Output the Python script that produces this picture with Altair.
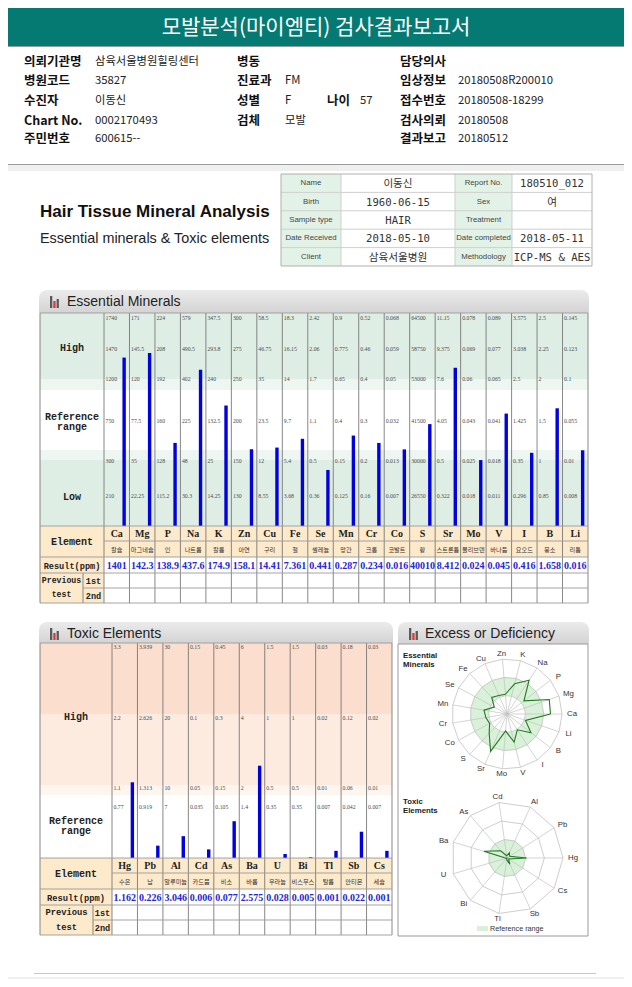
import altair as alt
import pandas as pd
import numpy as np

# ------------------------------------------------------------------ data
title_text = "모발분석(마이엠티) 검사결과보고서"

info_labels_1 = ["의뢰기관명", "병원코드", "수진자", "Chart No.", "주민번호"]
info_values_1 = ["삼육서울병원힐링센터", "35827", "이동신", "0002170493", "600615--"]
info_labels_2 = ["병동", "진료과", "성별", "검체"]
info_values_2 = ["", "FM", "F", "모발"]
age_label, age_value = "나이", "57"
info_labels_3 = ["담당의사", "임상정보", "접수번호", "검사의뢰", "결과보고"]
info_values_3 = ["", "20180508R200010", "20180508-18299", "20180508", "20180512"]

box_labels_1 = ["Name", "Birth", "Sample type", "Date Received", "Client"]
box_values_1 = ["이동신", "1960-06-15", "HAIR", "2018-05-10", "삼육서울병원"]
box_labels_2 = ["Report No.", "Sex", "Treatment", "Date completed", "Methodology"]
box_values_2 = ["180510_012", "여", "", "2018-05-11", "ICP-MS & AES"]

htma_title = "Hair Tissue Mineral Analysis"
htma_sub = "Essential minerals & Toxic elements"

ess_elements = ["Ca", "Mg", "P", "Na", "K", "Zn", "Cu", "Fe", "Se", "Mn",
                "Cr", "Co", "S", "Sr", "Mo", "V", "I", "B", "Li"]
ess_korean = ["칼슘", "마그네슘", "인", "나트륨", "칼륨", "아연", "구리", "철", "셀레늄", "망간",
              "크롬", "코발트", "황", "스트론튬", "몰리브덴", "바나듐", "요오드", "붕소", "리튬"]
ess_results = [1401, 142.3, 138.9, 437.6, 174.9, 158.1, 14.41, 7.361, 0.441, 0.287,
               0.234, 0.016, 40010, 8.412, 0.024, 0.045, 0.416, 1.658, 0.016]
# tick values per column, from the top row (level 6) down to level 1
ess_lvl6 = [1740, 171, 224, 579, 347.5, 300, 58.5, 18.3, 2.42, 0.9, 0.52, 0.068, 64500, 11.15, 0.078, 0.089, 3.575, 2.5, 0.145]
ess_lvl5 = [1470, 145.5, 208, 490.5, 293.8, 275, 46.75, 16.15, 2.06, 0.775, 0.46, 0.059, 58750, 9.375, 0.069, 0.077, 3.038, 2.25, 0.123]
ess_lvl4 = [1200, 120, 192, 402, 240, 250, 35, 14, 1.7, 0.65, 0.4, 0.05, 53000, 7.6, 0.06, 0.065, 2.5, 2, 0.1]
ess_lvl3 = [750, 77.5, 160, 225, 132.5, 200, 23.5, 9.7, 1.1, 0.4, 0.3, 0.032, 41500, 4.05, 0.043, 0.041, 1.425, 1.5, 0.055]
ess_lvl2 = [300, 35, 128, 48, 25, 150, 12, 5.4, 0.5, 0.15, 0.2, 0.013, 30000, 0.5, 0.025, 0.018, 0.35, 1, 0.01]
ess_lvl1 = [210, 22.25, 115.2, 30.3, 14.25, 130, 8.55, 3.68, 0.36, 0.125, 0.16, 0.007, 26550, 0.322, 0.018, 0.011, 0.296, 0.85, 0.008]

tox_elements = ["Hg", "Pb", "Al", "Cd", "As", "Ba", "U", "Bi", "Tl", "Sb", "Cs"]
tox_korean = ["수은", "납", "알루미늄", "카드뮴", "비소", "바륨", "우라늄", "비스무스", "탈륨", "안티몬", "세슘"]
tox_results = [1.162, 0.226, 3.046, 0.006, 0.077, 2.575, 0.028, 0.005, 0.001, 0.022, 0.001]
tox_t1 = [3.3, 3.939, 30, 0.15, 0.45, 6, 1.5, 1.5, 0.03, 0.18, 0.03]
tox_t2 = [2.2, 2.626, 20, 0.1, 0.3, 4, 1, 1, 0.02, 0.12, 0.02]
tox_t3 = [1.1, 1.313, 10, 0.05, 0.15, 2, 0.5, 0.5, 0.01, 0.06, 0.01]
tox_t4 = [0.77, 0.919, 7, 0.035, 0.105, 1.4, 0.35, 0.35, 0.007, 0.042, 0.007]

# ------------------------------------------------------------------ layout
W, H = 616, 971
SX = alt.Scale(domain=[8, 8 + W], range=[0, W], zero=False, nice=False)
SY = alt.Scale(domain=[8, 8 + H], range=[0, H], zero=False, nice=False)

F_KR = "Noto Sans CJK KR"
F_SANS = "Liberation Sans, Arial, sans-serif"
F_MONO = "Liberation Mono, Courier New, monospace"
F_SERIF = "Liberation Serif, Times New Roman, serif"

GREEN = "#dfeee5"
GREEN_L = "#eef6f1"
ORANGE = "#fdeacb"
PEACH1 = "#fbdecd"
PEACH2 = "#fdebe0"
PEACH3 = "#fef5ef"
GRID = "#6a6a6a"
TGRID = "#9a9a9a"
BLUE = "#0000e0"
RBLUE = "#2626d6"

layers = []


def px():
    return alt.X("x:Q", scale=SX, axis=None)


def py():
    return alt.Y("y:Q", scale=SY, axis=None)


def rects(rows, **kw):
    df = pd.DataFrame(rows, columns=["x", "x2", "y", "y2", "c"])
    return alt.Chart(df).mark_rect(**kw).encode(
        x=px(), x2="x2:Q", y=py(), y2="y2:Q", color=alt.Color("c:N", scale=None))


def segs(rows, color, width=1.0):
    df = pd.DataFrame(rows, columns=["x", "x2", "y", "y2"])
    return alt.Chart(df).mark_rule(color=color, strokeWidth=width).encode(
        x=px(), x2="x2:Q", y=py(), y2="y2:Q")


def texts(rows, **kw):
    df = pd.DataFrame(rows, columns=["x", "y", "t"])
    kw.setdefault("baseline", "middle")
    return alt.Chart(df).mark_text(**kw).encode(x=px(), y=py(), text="t:N")


def band_x(domain, x0, x1, pos):
    return alt.X("el:N", scale=alt.Scale(type="band", domain=domain, range=[x0 - 8, x1 - 8],
                                          paddingInner=0, paddingOuter=0),
                 bandPosition=pos, axis=None)


def col_texts(domain, x0, x1, pos, rows, **kw):
    df = pd.DataFrame(rows, columns=["el", "y", "t"])
    kw.setdefault("baseline", "middle")
    return alt.Chart(df).mark_text(**kw).encode(x=band_x(domain, x0, x1, pos), y=py(), text="t:N")


def fmt(v):
    return f"{v:g}"


# ------------------------------------------------------------------ page header
layers.append(rects([(8, 624, 7, 46, "#057a73"), (8, 624, 165, 171, "#efefef"),
                     (8, 624, 977, 979, "#efefef")]))
layers.append(segs([(8, 624, 46.5, 46.5), (8, 624, 164.5, 164.5)], "#9a9a9a"))
layers.append(segs([(34, 596, 973.5, 973.5)], "#c8c8c8"))
layers.append(texts([(316, 27.5, title_text)], font=F_KR, fontSize=21, color="white", align="center"))

row_y = [62, 81, 101, 121, 139]
layers.append(texts([(24, y, t) for y, t in zip(row_y, info_labels_1)]
                    + [(237, y, t) for y, t in zip(row_y, info_labels_2)]
                    + [(327, row_y[2], age_label)]
                    + [(400, y, t) for y, t in zip(row_y, info_labels_3)],
                    font=F_KR, fontSize=12.5, fontWeight="bold", color="#111", align="left"))
layers.append(texts([(95, y, t) for y, t in zip(row_y, info_values_1)]
                    + [(285, y, t) for y, t in zip(row_y, info_values_2)]
                    + [(360, row_y[2], age_value)]
                    + [(458, y, t) for y, t in zip(row_y, info_values_3)],
                    font=F_KR, fontSize=11.3, color="#222", align="left"))

# ------------------------------------------------------------------ HTMA title + info box
layers.append(texts([(40, 212, htma_title)], font=F_SANS, fontSize=17, fontWeight="bold",
                    color="#111", align="left"))
layers.append(texts([(40, 239, htma_sub)], font=F_SANS, fontSize=14.4, color="#222", align="left"))

bx = [281, 341, 455, 512, 592]
by = [174 + i * 18.4 for i in range(6)]
layers.append(rects([(bx[0], bx[1], by[0], by[5], "#e3f2e7"), (bx[2], bx[3], by[0], by[5], "#e3f2e7")]))
layers.append(segs([(bx[0], bx[4], y, y) for y in by[1:5]]
                   + [(x, x, by[0], by[5]) for x in bx[1:4]], "#cfcfcf"))
layers.append(rects([(bx[0], bx[4], by[0], by[5], "transparent")], stroke="#b0b0b0", strokeWidth=1))
mid = [(by[i] + by[i + 1]) / 2 for i in range(5)]
layers.append(texts([((bx[0] + bx[1]) / 2, y, t) for y, t in zip(mid, box_labels_1)]
                    + [((bx[2] + bx[3]) / 2, y, t) for y, t in zip(mid, box_labels_2)],
                    font=F_SANS, fontSize=7.8, color="#444", align="center"))
layers.append(texts([((bx[1] + bx[2]) / 2, y + 1, t) for y, t in zip(mid, box_values_1)]
                    + [((bx[3] + bx[4]) / 2, y + 1, t) for y, t in zip(mid, box_values_2)],
                    font="DejaVu Sans Mono, Noto Sans CJK KR, monospace", fontSize=10.6, color="#333",
                    align="center"))

# ------------------------------------------------------------------ section headers
hdr_grad = alt.Gradient(gradient="linear", x1=0, y1=0, x2=0, y2=1,
                        stops=[alt.GradientStop(offset=0, color="#ebebeb"),
                               alt.GradientStop(offset=1, color="#d3d3d3")])
for (x0, x1, y0, y1) in [(39, 589, 290, 313), (39, 393, 622, 643), (398, 589, 622, 644)]:
    df = pd.DataFrame([{"x": x0, "x2": x1, "y": y0, "y2": y1}])
    layers.append(alt.Chart(df).mark_rect(color=hdr_grad, cornerRadiusTopLeft=8, cornerRadiusTopRight=8)
                  .encode(x=px(), x2="x2:Q", y=py(), y2="y2:Q"))
icon_h = [12, 7, 9]
icon_c = ["#5a5a5a", "#e03535", "#5a5a5a"]
icon_rows = []
for (ix, base) in [(50, 308), (50, 640), (409, 640)]:
    for k in range(3):
        icon_rows.append((ix + k * 3.3, ix + k * 3.3 + 2.3, base - icon_h[k], base, icon_c[k]))
layers.append(rects(icon_rows))
layers.append(texts([(67, 302, "Essential Minerals"), (67, 634, "Toxic Elements"),
                     (425, 634, "Excess or Deficiency")],
                    font=F_SANS, fontSize=14, color="#222", align="left"))

# ------------------------------------------------------------------ essential minerals chart
EL, ELAB, ER = 40, 104, 588
ETOP, EBASE = 313, 526
erows = [526, 541, 557, 573, 588, 603]
esplit = 83
ecw = (ER - ELAB) / len(ess_elements)

layers.append(rects([(EL, ER, ETOP, 379, GREEN), (EL, ER, 379, 390, GREEN_L),
                     (EL, ER, 450, 460, GREEN_L), (EL, ER, 460, EBASE, GREEN),
                     (EL, ELAB, erows[0], erows[5], ORANGE), (ELAB, ER, erows[0], erows[2], ORANGE)]))

ess_level = []
for i, v in enumerate(ess_results):
    xs = [0, ess_lvl1[i], ess_lvl2[i], ess_lvl3[i], ess_lvl4[i], ess_lvl5[i], ess_lvl6[i]]
    ess_level.append(float(np.interp(v, xs, list(range(7)))))
ess_df = pd.DataFrame({"el": ess_elements, "level": ess_level})
layers.append(alt.Chart(ess_df).mark_rule(color=BLUE, strokeWidth=3.4).encode(
    x=band_x(ess_elements, ELAB, ER, 0.79),
    y=alt.Y("level:Q", scale=alt.Scale(domain=[0, 6], range=[EBASE - 8, ETOP - 8], zero=False, nice=False),
            axis=None),
    y2=alt.datum(0)))

# grid
ev = [EL, ELAB] + [ELAB + i * ecw for i in range(1, len(ess_elements))] + [ER]
layers.append(segs([(x, x, ETOP, erows[5]) for x in ev] + [(esplit, esplit, erows[3], erows[5])], GRID, 0.8))
layers.append(segs([(EL, ER, ETOP, ETOP), (EL, ER, erows[0], erows[0]), (ELAB, ER, erows[1], erows[1]),
                    (EL, ER, erows[2], erows[2]), (EL, ER, erows[3], erows[3]),
                    (esplit, ER, erows[4], erows[4]), (EL, ER, erows[5], erows[5])], TGRID, 0.9))

# tick labels
ess_tick_y = [318, 349, 379, 421, 461, 496]
tick_rows = []
for i, el in enumerate(ess_elements):
    for y, lst in zip(ess_tick_y, [ess_lvl6, ess_lvl5, ess_lvl4, ess_lvl3, ess_lvl2, ess_lvl1]):
        tick_rows.append((el, y, fmt(lst[i])))
layers.append(col_texts(ess_elements, ELAB, ER, 0.06, tick_rows, font=F_SERIF, fontSize=5.8,
                        color="#4a4a4a", align="left"))
layers.append(col_texts(ess_elements, ELAB, ER, 0.5, [(e, 534, e) for e in ess_elements],
                        font=F_SERIF, fontSize=10, fontWeight="bold", color="#222", align="center"))
layers.append(col_texts(ess_elements, ELAB, ER, 0.5, [(e, 549.5, k) for e, k in zip(ess_elements, ess_korean)],
                        font=F_KR, fontSize=6.2, color="#333", align="center"))
layers.append(col_texts(ess_elements, ELAB, ER, 0.5, [(e, 565.5, fmt(v)) for e, v in zip(ess_elements, ess_results)],
                        font=F_SERIF, fontSize=10, fontWeight="bold", color=RBLUE, align="center"))

lab_c = (EL + ELAB) / 2
layers.append(texts([(lab_c, 348, "High"), (lab_c, 417, "Reference"), (lab_c, 426.5, "range"),
                     (lab_c, 497, "Low"), (lab_c, 541.5, "Element")],
                    font=F_MONO, fontSize=10, fontWeight="bold", color="#222", align="center"))
layers.append(texts([(lab_c, 565.5, "Result(ppm)")], font=F_MONO, fontSize=8.6, fontWeight="bold",
                    color="#222", align="center"))
layers.append(texts([((EL + esplit) / 2, 580.5, "Previous"), ((EL + esplit) / 2, 594.5, "test")],
                    font=F_MONO, fontSize=8.2, fontWeight="bold", color="#222", align="center"))
layers.append(texts([((esplit + ELAB) / 2, 580.5, "1st"), ((esplit + ELAB) / 2, 595.5, "2nd")],
                    font=F_MONO, fontSize=8.6, fontWeight="bold", color="#222", align="center"))

# ------------------------------------------------------------------ toxic elements chart
TL, TLAB, TR = 40, 112, 392
TTOP, TBASE = 643, 858
trows = [858, 873, 889, 905, 920, 935]
tsplit = 93
tcw = (TR - TLAB) / len(tox_elements)

layers.append(rects([(TL, TR, TTOP, 714, PEACH1), (TL, TR, 714, 785, PEACH2), (TL, TR, 785, 795, PEACH3),
                     (TL, TLAB, trows[0], trows[5], ORANGE), (TLAB, TR, trows[0], trows[2], ORANGE)]))

tox_frac = [r / m for r, m in zip(tox_results, tox_t1)]
tox_df = pd.DataFrame({"el": tox_elements, "frac": tox_frac})
layers.append(alt.Chart(tox_df).mark_rule(color=BLUE, strokeWidth=3.4).encode(
    x=band_x(tox_elements, TLAB, TR, 0.8),
    y=alt.Y("frac:Q", scale=alt.Scale(domain=[0, 1], range=[TBASE - 8, TTOP - 8], zero=False, nice=False),
            axis=None),
    y2=alt.datum(0)))

tv = [TL, TLAB] + [TLAB + i * tcw for i in range(1, len(tox_elements))] + [TR]
layers.append(segs([(x, x, TTOP, trows[5]) for x in tv] + [(tsplit, tsplit, trows[3], trows[5])], GRID, 0.8))
layers.append(segs([(TL, TR, TTOP, TTOP), (TL, TR, trows[0], trows[0]), (TLAB, TR, trows[1], trows[1]),
                    (TL, TR, trows[2], trows[2]), (TL, TR, trows[3], trows[3]),
                    (tsplit, TR, trows[4], trows[4]), (TL, TR, trows[5], trows[5])], TGRID, 0.9))

tox_tick_y = [647, 718, 788, 807]
ttick_rows = []
for i, el in enumerate(tox_elements):
    for y, lst in zip(tox_tick_y, [tox_t1, tox_t2, tox_t3, tox_t4]):
        ttick_rows.append((el, y, fmt(lst[i])))
layers.append(col_texts(tox_elements, TLAB, TR, 0.06, ttick_rows, font=F_SERIF, fontSize=5.8,
                        color="#4a4a4a", align="left"))
layers.append(col_texts(tox_elements, TLAB, TR, 0.5, [(e, 866, e) for e in tox_elements],
                        font=F_SERIF, fontSize=10, fontWeight="bold", color="#222", align="center"))
layers.append(col_texts(tox_elements, TLAB, TR, 0.5, [(e, 881.5, k) for e, k in zip(tox_elements, tox_korean)],
                        font=F_KR, fontSize=6.2, color="#333", align="center"))
layers.append(col_texts(tox_elements, TLAB, TR, 0.5, [(e, 897.5, fmt(v)) for e, v in zip(tox_elements, tox_results)],
                        font=F_SERIF, fontSize=10, fontWeight="bold", color=RBLUE, align="center"))

tlab_c = (TL + TLAB) / 2
layers.append(texts([(tlab_c, 717, "High"), (tlab_c, 821, "Reference"), (tlab_c, 830.5, "range"),
                     (tlab_c, 873.5, "Element")],
                    font=F_MONO, fontSize=10, fontWeight="bold", color="#222", align="center"))
layers.append(texts([(tlab_c, 897.5, "Result(ppm)")], font=F_MONO, fontSize=8.8, fontWeight="bold",
                    color="#222", align="center"))
layers.append(texts([((TL + tsplit) / 2, 912, "Previous"), ((TL + tsplit) / 2, 926.5, "test")],
                    font=F_MONO, fontSize=8.8, fontWeight="bold", color="#222", align="center"))
layers.append(texts([((tsplit + TLAB) / 2, 912.5, "1st"), ((tsplit + TLAB) / 2, 927.5, "2nd")],
                    font=F_MONO, fontSize=8.6, fontWeight="bold", color="#222", align="center"))

# ------------------------------------------------------------------ radar panel
layers.append(rects([(398, 588, 644, 936, "white")], stroke="#9a9a9a", strokeWidth=1))


def poly(cx, cy, radii, n, group):
    rows = []
    for j in range(n + 1):
        i = j % n
        a = np.deg2rad(i * 360.0 / n)
        r = radii[i] if isinstance(radii, (list, tuple)) else radii
        rows.append({"x": cx + r * np.cos(a), "y": cy - r * np.sin(a), "o": j, "g": group})
    return rows


def line_layer(rows, **kw):
    df = pd.DataFrame(rows)
    return alt.Chart(df).mark_line(**kw).encode(x=px(), y=py(), order="o:Q", detail="g:N")


RG = "#d8f1d8"
RING = "#c2c2c2"
DATA_G = "#217a21"


def radar(cx, cy, R, names, values_frac, band_lo, band_hi):
    n = len(names)
    out = []
    out.append(line_layer(poly(cx, cy, band_hi * R, n, "hi"), fill=RG, stroke=RG, strokeWidth=0.5))
    if band_lo > 0:
        out.append(line_layer(poly(cx, cy, band_lo * R, n, "lo"), fill="white", stroke="white", strokeWidth=0.5))
    rings = []
    for k, f in enumerate([1 / 3, 2 / 3, 1.0]):
        rings += poly(cx, cy, f * R, n, f"r{k}")
    out.append(line_layer(rings, color=RING, strokeWidth=0.8))
    spokes = []
    for i in range(n):
        a = np.deg2rad(i * 360.0 / n)
        spokes.append((cx, cx + R * np.cos(a), cy, cy - R * np.sin(a)))
    out.append(segs(spokes, RING, 0.7))
    out.append(line_layer(poly(cx, cy, [f * R for f in values_frac], n, "data"), color=DATA_G, strokeWidth=1.1))
    labs = []
    for i, nm in enumerate(names):
        a = np.deg2rad(i * 360.0 / n)
        labs.append((cx + (R + 10) * np.cos(a), cy - (R + 5.5) * np.sin(a), nm))
    out.append(texts(labs, font=F_SANS, fontSize=7.8, color="#333", align="center"))
    return out


layers += radar(507, 714, 55, ess_elements, [lv / 6 for lv in ess_level], 1 / 3, 2 / 3)
layers += radar(507, 858, 56, tox_elements, tox_frac, 0, 1 / 3)
layers.append(texts([(403, 656, "Essential"), (403, 664.5, "Minerals"), (403, 802, "Toxic"), (403, 810.5, "Elements")],
                    font=F_SANS, fontSize=7.8, fontWeight="bold", color="#222", align="left"))
layers.append(rects([(477, 488, 926, 931, RG)]))
layers.append(texts([(490, 928.5, "Reference range")], font=F_SANS, fontSize=7.2, color="#333", align="left"))

# ------------------------------------------------------------------ compose
chart = alt.layer(*layers).resolve_scale(x="independent", y="independent").properties(
    width=W, height=H, padding=0, autosize=alt.AutoSizeParams(type="none"), background="white"
).configure_view(stroke=None)

chart.save("out.html", embed_options={"renderer": "svg", "actions": False})
